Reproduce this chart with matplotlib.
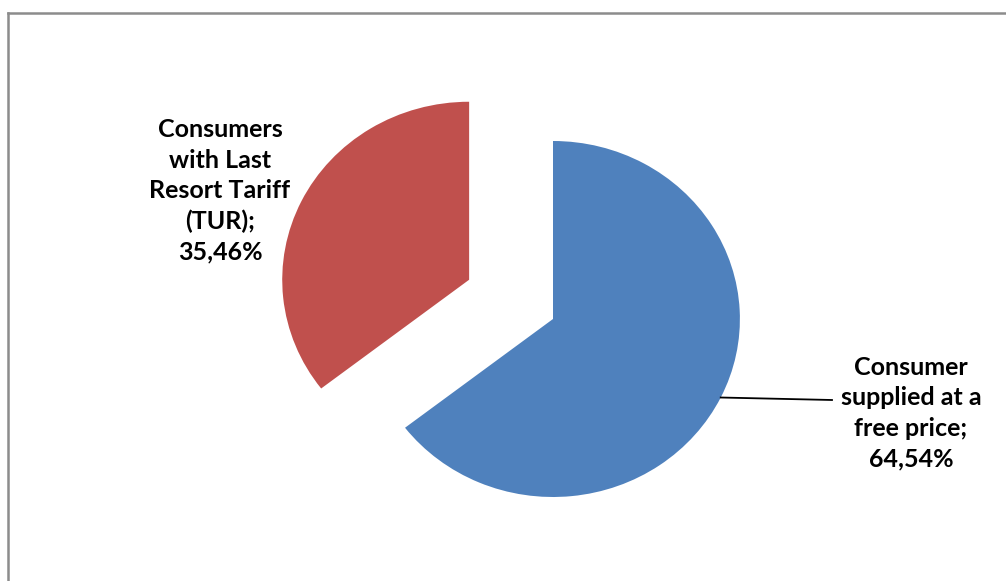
import matplotlib.pyplot as plt
import numpy as np
from matplotlib.lines import Line2D

labels = ['Consumer\nsupplied at a\nfree price;\n64,54%',
          'Consumers\nwith Last\nResort Tariff\n(TUR);\n35,46%']
values = [64.54, 35.46]
colors = ['#4F81BD', '#C0504D']
explode = [0, 0.5]  # fraction of the radius

W, H = 1006, 581
sx = 1.05  # horizontal stretch of the original picture

fig = plt.figure(figsize=(W / 100, H / 100), dpi=100)
ax = fig.add_axes([0, 0, 1, 1])

cx, cy, r = 553 / sx, H - 319, 178
wedges, _ = ax.pie(values, colors=colors, explode=[e * r for e in explode],
                   startangle=90, counterclock=False, center=(cx, cy), radius=r,
                   wedgeprops=dict(linewidth=0))
ax.set_xlim(0, W / sx)
ax.set_ylim(0, H)
ax.set_aspect('auto')
ax.axis('off')

font = dict(family=['Lato', 'DejaVu Sans'], fontsize=18, fontweight='bold',
            ha='center', va='center', linespacing=1.39)

# leader line for the blue slice, from the wedge edge to the label
w = wedges[0]
ang = np.deg2rad((w.theta1 + w.theta2) / 2)
x0 = cx + r * np.cos(ang)
y0 = cy + r * np.sin(ang)
ax.plot([x0, 832 / sx], [y0, H - 400], color='black', lw=1.3)
ax.text(911 / sx, H - 413, labels[0], **font)

ax.text(220 / sx, H - 191, labels[1], **font)

# chart area border
fig.add_artist(Line2D([8 / W, 8 / W], [0, 1 - 12.5 / H], color='#8c8c8c', lw=1.8))
fig.add_artist(Line2D([8 / W, 1], [1 - 12.5 / H, 1 - 12.5 / H], color='#8c8c8c', lw=1.8))

fig.savefig('out.png', dpi=100)
